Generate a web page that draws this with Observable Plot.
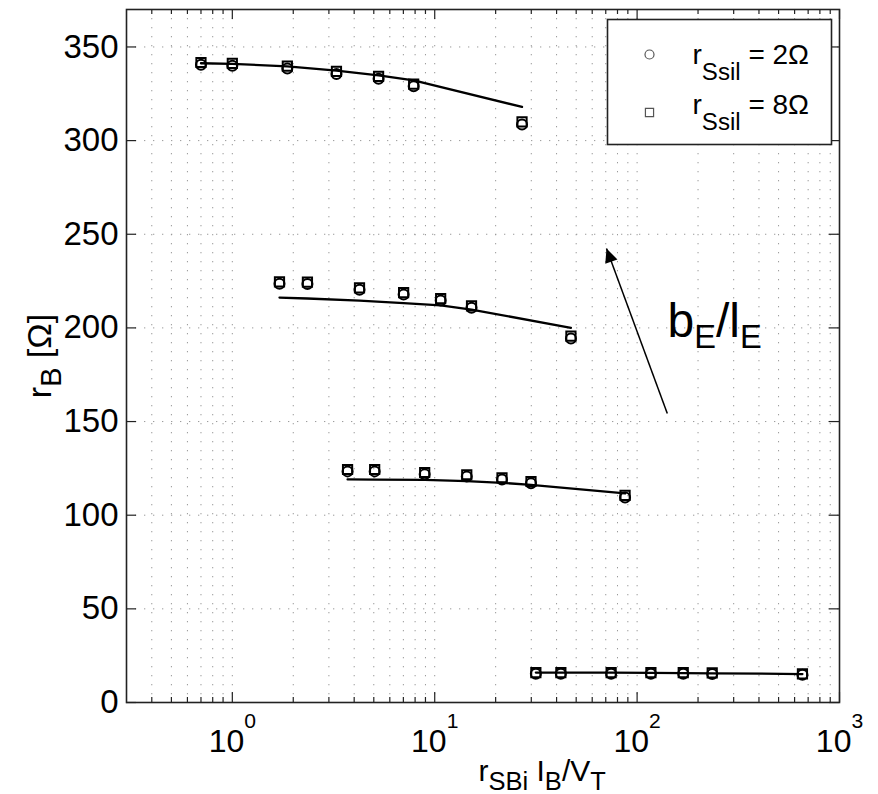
<!DOCTYPE html>
<html>
<head>
<meta charset="utf-8">
<script src="https://cdn.jsdelivr.net/npm/d3@7"></script>
<script src="https://cdn.jsdelivr.net/npm/@observablehq/plot@0.6"></script>
<style>
  html, body { margin: 0; padding: 0; background: #fff; }
  #chart { width: 878px; height: 794px; }
</style>
</head>
<body>
<div id="chart"></div>
<script>
// ---------------- data ----------------
const seriesLabels = ["r_{Ssil} = 2Ω", "r_{Ssil} = 8Ω"];
const xAxisLabel = "r_{SBi} I_{B}/V_{T}";
const yAxisLabel = "r_{B} [Ω]";
const annotationLabel = "b_{E}/l_{E}";

const yTicks = [0, 50, 100, 150, 200, 250, 300, 350];
const xDecades = [1, 10, 100, 1000];

// group 1 (top)
const g1X      = [0.70, 1.00, 1.87, 3.27, 5.28, 7.87, 27.0];
const g1Circle = [340.5, 340.0, 338.5, 335.6, 333.0, 329.0, 308.6];
const g1Square = [341.7, 341.2, 339.8, 337.0, 334.3, 330.2, 310.0];
const g1Model  = [341.3, 341.0, 339.6, 337.4, 334.8, 332.1, 318.0];
// group 2
const g2X      = [1.71, 2.35, 4.25, 7.02, 10.7, 15.2, 47.1];
const g2Circle = [223.6, 223.4, 220.4, 217.8, 214.6, 210.8, 194.4];
const g2Square = [224.6, 224.4, 221.4, 218.8, 215.6, 211.8, 195.6];
const g2Model  = [216.2, 215.7, 214.6, 213.2, 212.0, 209.8, 200.0];
// group 3
const g3X      = [3.71, 5.05, 8.92, 14.4, 21.5, 29.9, 87.2];
const g3Circle = [123.4, 123.4, 121.8, 120.6, 119.0, 117.0, 109.4];
const g3Square = [124.4, 124.4, 122.8, 121.6, 120.0, 118.0, 110.6];
const g3Model  = [119.1, 119.0, 118.9, 118.2, 117.3, 116.2, 111.6];
// group 4 (bottom)
const g4X      = [31.6, 42.0, 74.4, 117, 169, 235, 656];
const g4Circle = [15.4, 15.4, 15.4, 15.3, 15.3, 15.2, 14.8];
const g4Square = [16.0, 16.0, 16.0, 15.9, 15.9, 15.8, 15.3];
const g4Model  = [16.0, 16.0, 15.9, 15.8, 15.7, 15.6, 15.2];

// annotation arrow (data coordinates)
const arrowFrom = {x: 141, y: 154.3};
const arrowTo   = {x: 70.6, y: 242.4};
const labelAt   = {x: 141.3, y: 195.4};

// ---------------- build tables ----------------
const groups = [
  {name: "g1", x: g1X, c: g1Circle, s: g1Square, m: g1Model},
  {name: "g2", x: g2X, c: g2Circle, s: g2Square, m: g2Model},
  {name: "g3", x: g3X, c: g3Circle, s: g3Square, m: g3Model},
  {name: "g4", x: g4X, c: g4Circle, s: g4Square, m: g4Model}
];
const rows = groups.flatMap(g => g.x.map((x, i) => ({group: g.name, x, circle: g.c[i], square: g.s[i], model: g.m[i]})));

const xDomain = [0.3, 1000];
const xMinor = [];
for (const d of [0.1, 1, 10, 100]) for (let k = 2; k <= 9; k++) { const v = +(k * d).toPrecision(3); if (v > xDomain[0] && v < xDomain[1]) xMinor.push(v); }
const xMajorInner = xDecades.filter(d => d < xDomain[1]);
const xGrid = [...xMajorInner, ...xMinor];

const W = 878, H = 794;
const M = {top: 9, right: 39, bottom: 92, left: 126};
const frameH = H - M.top - M.bottom, frameW = W - M.left - M.right;
const majorLen = 10, minorLen = 5;
const gridStyle = {stroke: "#999", strokeWidth: 1, strokeDasharray: "1.3,7.7"};

function filledArrow(color, context) {
  const marker = d3.create("svg:marker")
    .attr("viewBox", "-15 -7 16 14")
    .attr("markerWidth", 16)
    .attr("markerHeight", 14)
    .attr("markerUnits", "userSpaceOnUse")
    .attr("refX", 0).attr("refY", 0)
    .attr("orient", "auto");
  marker.append("path").attr("d", "M0,0L-14,-6.5L-14,6.5Z").attr("fill", "black").attr("stroke", "none");
  return marker.node();
}

const chart = Plot.plot({
  width: W, height: H,
  marginTop: M.top, marginRight: M.right, marginBottom: M.bottom, marginLeft: M.left,
  style: {fontFamily: "'Liberation Sans', Arial, Helvetica, sans-serif", background: "white", color: "black"},
  x: {type: "log", domain: xDomain, axis: null},
  y: {domain: [0, 370], axis: null},
  marks: [
    // grid
    Plot.ruleX(xGrid, {x: d => d, ...gridStyle}),
    Plot.ruleY(yTicks.filter(d => d > 0), {y: d => d, ...gridStyle}),
    // ticks (inside, all four sides)
    Plot.tickX(xDecades, {x: d => d, insetTop: frameH - majorLen, stroke: "#222", strokeWidth: 1.2}),
    Plot.tickX(xDecades, {x: d => d, insetBottom: frameH - majorLen, stroke: "#222", strokeWidth: 1.2}),
    Plot.tickX(xMinor, {x: d => d, insetTop: frameH - minorLen, stroke: "#222", strokeWidth: 1.2}),
    Plot.tickX(xMinor, {x: d => d, insetBottom: frameH - minorLen, stroke: "#222", strokeWidth: 1.2}),
    Plot.tickY(yTicks, {y: d => d, insetRight: frameW - majorLen, stroke: "#222", strokeWidth: 1.2}),
    Plot.tickY(yTicks, {y: d => d, insetLeft: frameW - majorLen, stroke: "#222", strokeWidth: 1.2}),
    Plot.frame({stroke: "#222", strokeWidth: 1.6}),
    // model lines
    Plot.line(rows, {x: "x", y: "model", z: "group", stroke: "black", strokeWidth: 2.3, curve: "linear"}),
    // measured points
    Plot.dot(rows, {x: "x", y: "circle", symbol: "circle", r: 5, stroke: "black", strokeWidth: 2, fill: "none"}),
    Plot.dot(rows, {x: "x", y: "square", symbol: "square", r: 5.2, stroke: "black", strokeWidth: 2, fill: "none"}),
    // annotation
    Plot.link([arrowFrom], {x1: d => d.x, y1: d => d.y, x2: () => arrowTo.x, y2: () => arrowTo.y, stroke: "black", strokeWidth: 1.5, markerEnd: filledArrow}),
    Plot.text([annotationLabel], {x: () => labelAt.x, y: () => labelAt.y, text: d => d, textAnchor: "start", lineAnchor: "bottom", fontSize: 48}),
    // legend
    Plot.frame({insetLeft: 481, insetRight: 8, insetTop: 10, insetBottom: 558, fill: "white", stroke: "#222", strokeWidth: 1.6}),
    Plot.dot([seriesLabels[0]], {frameAnchor: "top-right", dx: -190, dy: 45, symbol: "circle", r: 4.5, stroke: "#555", strokeWidth: 1.2, fill: "none"}),
    Plot.dot([seriesLabels[1]], {frameAnchor: "top-right", dx: -190, dy: 103, symbol: "square", r: 4.6, stroke: "#555", strokeWidth: 1.2, fill: "none"}),
    Plot.text([seriesLabels[0]], {frameAnchor: "top-right", dx: -147, dy: 54, text: d => d, textAnchor: "start", lineAnchor: "bottom", fontSize: 28}),
    Plot.text([seriesLabels[1]], {frameAnchor: "top-right", dx: -147, dy: 104, text: d => d, textAnchor: "start", lineAnchor: "bottom", fontSize: 28}),
    // axis tick labels
    Plot.text(yTicks, {y: d => d, text: d => String(d), frameAnchor: "left", textAnchor: "end", lineAnchor: "middle", dx: -8, fontSize: 33}),
    Plot.text(xDecades, {x: d => d, text: d => `10^{${Math.round(Math.log10(d))}}`, frameAnchor: "bottom", lineAnchor: "bottom", dy: 49, fontSize: 32}),
    // axis titles
    Plot.text([xAxisLabel], {frameAnchor: "bottom", text: d => d, textAnchor: "start", lineAnchor: "bottom", dx: -4.5, dy: 78, fontSize: 30}),
    Plot.text([yAxisLabel], {frameAnchor: "left", text: d => d, rotate: -90, textAnchor: "middle", lineAnchor: "bottom", dx: -76, fontSize: 34})
  ]
});

document.getElementById("chart").appendChild(chart);

// rich text: _{..} subscripts and ^{..} superscripts rendered as tspans
const richCfg = [
  {test: s => s.startsWith("r_{Ssil}"), subSize: 0.86, subShift: 0.6},
  {test: s => s.startsWith("b_{E}"), subSize: 0.68, subShift: 0.24},
  {test: s => s.startsWith("10^"), supSize: 0.66, supShift: 0.72},
  {test: () => true, subSize: 0.85, subShift: 0.3, supSize: 0.65, supShift: 0.6}
];
chart.querySelectorAll("text").forEach(el => {
  const s = el.textContent;
  if (!/[_^]\{/.test(s)) return;
  const fs = parseFloat(getComputedStyle(el).fontSize) || 16;
  const c = richCfg.find(c => c.test(s));
  el.textContent = "";
  let cur = 0;
  const re = /([_^])\{([^}]*)\}|([^_^]+)/g;
  let m;
  while ((m = re.exec(s))) {
    const ts = document.createElementNS("http://www.w3.org/2000/svg", "tspan");
    let off = 0, size = fs, txt = m[3];
    if (m[1] === "_") { off = fs * c.subShift; size = fs * c.subSize; txt = m[2]; }
    else if (m[1] === "^") { off = -fs * c.supShift; size = fs * c.supSize; txt = m[2]; }
    const dy = off - cur;
    if (dy) ts.setAttribute("dy", dy.toFixed(2));
    if (size !== fs) ts.setAttribute("font-size", size.toFixed(2));
    cur = off;
    ts.textContent = txt;
    el.appendChild(ts);
  }
});
</script>
</body>
</html>
